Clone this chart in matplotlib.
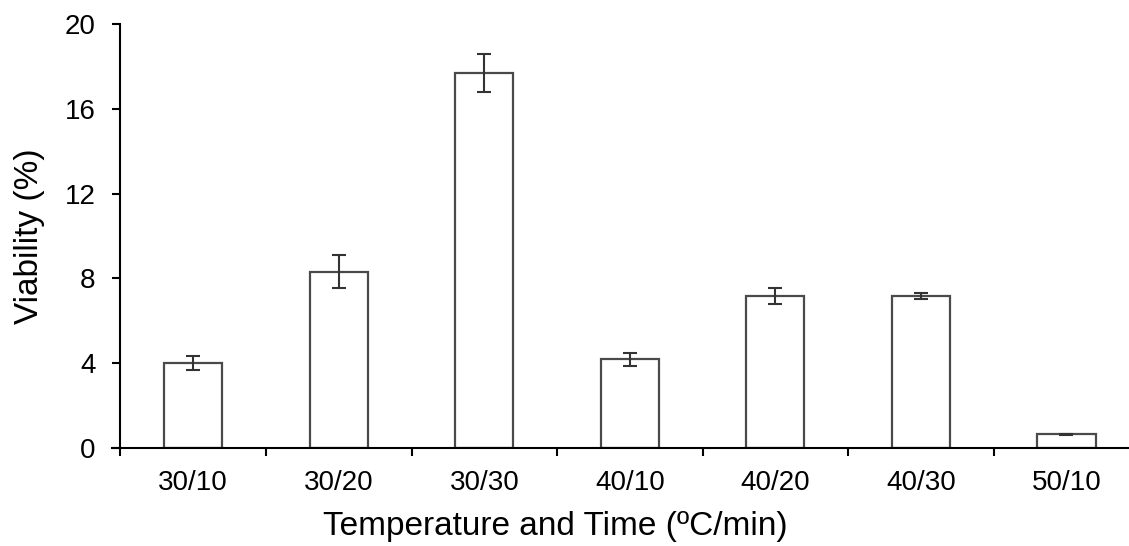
import matplotlib
matplotlib.use("Agg")
import matplotlib.pyplot as plt
import numpy as np

# Viability after heat treatment (temperature / time)
categories = ['30/10', '30/20', '30/30', '40/10', '40/20', '40/30', '50/10']
viability = [4.0, 8.32, 17.7, 4.19, 7.15, 7.18, 0.63]
errors = [0.32, 0.77, 0.92, 0.31, 0.38, 0.14, 0.02]
y_ticks = [0, 4, 8, 12, 16, 20]

plt.rcParams['font.family'] = ['Liberation Sans', 'DejaVu Sans']

fig = plt.figure(figsize=(11.29, 5.46), dpi=100)
ax = fig.add_axes([112 / 1129, (546 - 447.8) / 546, 1 - 112 / 1129, (447.8 - 24.3) / 546])

x = np.arange(len(categories))
ax.bar(x, viability, width=0.4, color='white', edgecolor='#4a4a4a', linewidth=1.6, zorder=2)
ax.errorbar(x, viability, yerr=errors, fmt='none', ecolor='#333333',
            elinewidth=1.5, capsize=4.7, capthick=1.5, zorder=3)

ax.set_xlim(-0.558, 6.43)
ax.set_ylim(0, 20)

for side in ['top', 'right']:
    ax.spines[side].set_visible(False)
ax.spines['left'].set_position(('data', -0.5))
ax.spines['left'].set_linewidth(1.5)
ax.spines['bottom'].set_linewidth(1.5)

ax.set_yticks(y_ticks)
ax.set_yticklabels([str(v) for v in y_ticks])
ax.tick_params(axis='y', direction='out', length=6, width=1.5, pad=12, labelsize=20)

ax.set_xticks(x)
ax.set_xticklabels(categories)
ax.set_xticks(np.arange(-0.5, 6.0, 1.0), minor=True)
ax.tick_params(axis='x', which='major', length=0, pad=16, labelsize=20)
ax.tick_params(axis='x', which='minor', direction='out', length=6, width=1.5)

ax.set_xlabel('Temperature and Time (ºC/min)', fontsize=24)
ax.xaxis.set_label_coords(0.436, -0.15)
ax.set_ylabel('Viability (%)', fontsize=24)
ax.yaxis.set_label_coords(-0.066, 0.5)

fig.savefig('out.png', dpi=100)
